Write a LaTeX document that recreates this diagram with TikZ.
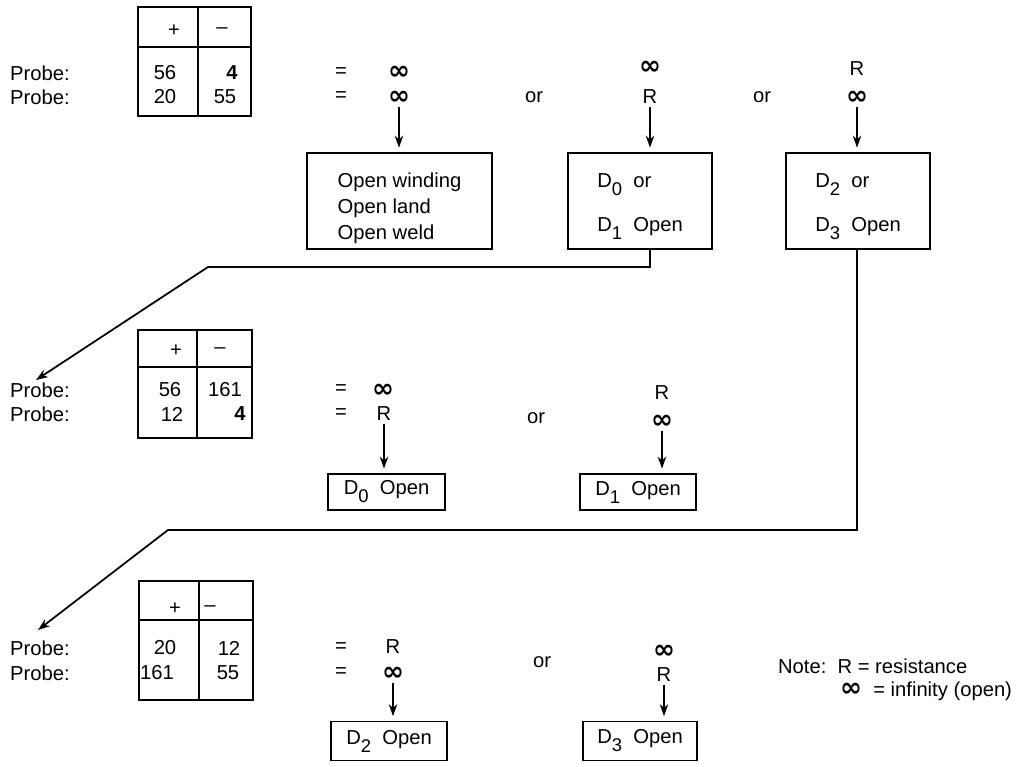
\documentclass[tikz,border=0pt]{standalone}
\usepackage{fontspec}
\setmainfont{Liberation Sans}
\newfontfamily\symfont{DejaVu Sans}
\usetikzlibrary{arrows.meta,positioning,calc}

\newcommand{\infsym}{\raisebox{0pt}[6pt][0pt]{\symfont\bfseries\fontsize{15}{14}\selectfont ∞}}
\newcommand{\Dsub}[1]{D\raisebox{-0.75ex}{\fontsize{10.5}{10.5}\selectfont #1}}

\begin{document}
\begin{tikzpicture}[
    x=0.02cm, y=-0.02cm,
    txt/.style={
        inner sep=1pt,
        font=\fontsize{11.5}{14}\selectfont
    },
    val/.style={
        txt,
        inner sep=1.5pt
    },
    fault/.style={
        draw,
        line width=1.1pt,
        align=left,
        inner sep=0pt,
        font=\fontsize{11.5}{14}\selectfont
    },
    frame/.style={line width=1.1pt},
    arrow/.style={-{Stealth[length=2.4mm,width=1.7mm]}, line width=1pt}
]
\useasboundingbox (0,0) rectangle (1025,767);

% first test
\draw[frame] (138,7) rectangle (251,116);
\draw[frame] (138,47) -- (251,47);
\draw[frame] (198,7) -- (198,116);
\node[txt] (h1p) at (174,31) {+};
\node[txt] (h1m) at (222,31) {--};
\node[txt] (c1a) at (165,73) {56};
\node[txt] (c1b) at (232,73) {\textbf{4}};
\node[txt] (c1c) at (165,97) {20};
\node[txt] (c1d) at (225,97) {55};
\node[txt, anchor=west] (p1a) at (8,73) {Probe:};
\node[txt, anchor=west] (p1b) at (8,97) {Probe:};
\node[txt] (e1a) at (341,73) {=};
\node[txt] (e1b) at (341,97) {=};

\node[val] (v11a) at (399,74) {\infsym};
\node[val] (v11b) at (399,99) {\infsym};
\node[val] (v12a) at (650,69) {\infsym};
\node[txt] (or1a) at (534,97) {or};
\node[val] (v12b) at (650,97) {R};
\node[val] (v13a) at (857,69) {R};
\node[txt] (or1b) at (762,97) {or};
\node[val] (v13b) at (857,99) {\infsym};

\node[fault, minimum width=3.7cm, minimum height=1.92cm] (open) at (399.5,201)
    {\rule{0pt}{16.5pt}Open winding\\[1pt]Open land\\[1pt]Open weld};
\node[fault, minimum width=2.88cm, minimum height=1.92cm] (d01) at (640,201)
    {\rule{0pt}{14pt}\Dsub{0}\ \ or\\[11pt]\Dsub{1}\ \ Open};
\node[fault, minimum width=2.88cm, minimum height=1.92cm] (d23) at (858,201)
    {\rule{0pt}{14pt}\Dsub{2}\ \ or\\[11pt]\Dsub{3}\ \ Open};

\draw[arrow, shorten >=2.5pt] (v11b) -- (v11b |- open.north);
\draw[arrow, shorten >=2.5pt] (v12b) -- (v12b |- d01.north);
\draw[arrow, shorten >=2.5pt] (v13b) -- (v13b |- d23.north);

\coordinate (k1) at (208,267);
\coordinate (tip2) at (36,380);
\coordinate (k2) at (168,530);
\coordinate (tip3) at (38,630);
\draw[arrow] (v12b |- d01.south) |- (k1) -- (tip2);
\draw[arrow] (v13b |- d23.south) |- (k2) -- (tip3);

% second test
\draw[frame] (138,330) rectangle (252,438);
\draw[frame] (138,367) -- (252,367);
\draw[frame] (197,330) -- (197,438);
\node[txt] (h2p) at (176,351) {+};
\node[txt] (h2m) at (220,351) {--};
\node[txt] (c2a) at (170,390) {56};
\node[txt] (c2b) at (225,390) {161};
\node[txt] (c2c) at (172,414) {12};
\node[txt] (c2d) at (240,414) {\textbf{4}};
\node[txt, anchor=west] (p2a) at (8,390) {Probe:};
\node[txt, anchor=west] (p2b) at (8,414) {Probe:};
\node[txt] (e2a) at (341,390) {=};
\node[txt] (e2b) at (341,414) {=};

\node[val] (v21a) at (383,392) {\infsym};
\node[val] (v21b) at (384,414) {R};
\node[txt] (or2) at (536,418) {or};
\node[val] (v22a) at (662,393) {R};
\node[val] (v22b) at (662,423) {\infsym};

\node[fault, minimum width=2.34cm, minimum height=0.72cm] (d0) at (386.5,492)
    {\Dsub{0}\ \ Open};
\node[fault, minimum width=2.32cm, minimum height=0.72cm] (d1) at (638,492)
    {\Dsub{1}\ \ Open};
\draw[arrow, shorten >=2.5pt] (v21b) -- (v21b |- d0.north);
\draw[arrow, shorten >=2.5pt] (v22b) -- (v22b |- d1.north);

% third test
\draw[frame] (139,581) rectangle (253,700);
\draw[frame] (139,620) -- (253,620);
\draw[frame] (199,581) -- (199,700);
\node[txt] (h3p) at (175,609) {+};
\node[txt] (h3m) at (210,609) {--};
\node[txt] (c3a) at (165,648) {20};
\node[txt] (c3b) at (229,648) {12};
\node[txt] (c3c) at (157,673) {161};
\node[txt] (c3d) at (228,673) {55};
\node[txt, anchor=west] (p3a) at (8,648) {Probe:};
\node[txt, anchor=west] (p3b) at (8,673) {Probe:};
\node[txt] (e3a) at (341,648) {=};
\node[txt] (e3b) at (341,673) {=};

\node[val] (v31a) at (393,647) {R};
\node[val] (v31b) at (393,675) {\infsym};
\node[txt] (or3) at (542,662) {or};
\node[val] (v32a) at (664,653) {\infsym};
\node[val] (v32b) at (664,675) {R};

\node[fault, minimum width=2.32cm, minimum height=0.78cm] (d2) at (389,741)
    {\Dsub{2}\ \ Open};
\node[fault, minimum width=2.28cm, minimum height=0.78cm] (d3) at (640,741)
    {\Dsub{3}\ \ Open};
\draw[arrow, shorten >=2.5pt] (v31b) -- (v31b |- d2.north);
\draw[arrow, shorten >=2.5pt] (v32b) -- (v32b |- d3.north);

% legend
\node[txt, anchor=west] (note1) at (776,666) {Note:\ \ R = resistance};
\node[txt, anchor=west] (note2) at (838,691) {\infsym\ \ = infinity (open)};
\end{tikzpicture}
\end{document}
